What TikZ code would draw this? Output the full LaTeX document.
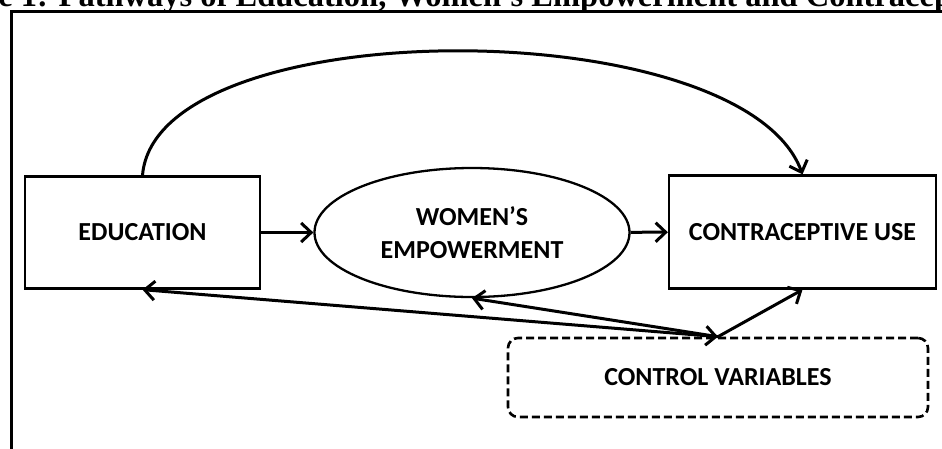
\documentclass[tikz,border=0pt]{standalone}
\usepackage{fontspec}
\setmainfont{Liberation Serif}
\newfontfamily\boxfont{Carlito}
\usetikzlibrary{arrows.meta,shapes.geometric}

\begin{document}
\begin{tikzpicture}[x=1pt,y=-1pt,>={Straight Barb[length=10pt,width=19pt]},
    box/.style={draw,line width=2.3pt,inner sep=0pt,align=center,
      font=\boxfont\bfseries\fontsize{26}{33}\selectfont},
    link/.style={->,line width=3pt}]
        \useasboundingbox (0,0) rectangle (942,448);
        \node[anchor=base west,inner sep=0pt,font=\bfseries\fontsize{32.5}{36}\selectfont] (title) at (-79,6)
            {Figure 1: Pathways of Education, Women’s Empowerment and Contraceptive Use};
        \draw[line width=3pt] (11.5,460) -- (11.5,11.5) -- (960,11.5);
        \node[box,minimum width=235pt,minimum height=112pt] (edu) at (142.5,232.5) {EDUCATION};
        \node[box,ellipse,minimum width=315pt,minimum height=129pt] (emp) at (472,232.5) {WOMEN’S\\EMPOWERMENT};
        \node[box,minimum width=267pt,minimum height=113pt] (cu) at (802.5,232) {CONTRACEPTIVE USE};
        \node[box,line width=2.6pt,dash pattern=on 8pt off 4pt,rounded corners=10pt,
            minimum width=420pt,minimum height=79pt] (cv) at (718,377.5) {CONTROL VARIABLES};
        \draw[link] (edu) -- (emp);
        \draw[link] (emp) -- (cu);
        \draw[link] (edu.north) .. controls (156,10) and (742,10) .. (cu.north);
        \draw[link,<->] (cv.north) -- (edu.south);
        \draw[link] (cv.north) -- (emp.south);
        \draw[link] (cv.north) -- (cu.south);
\end{tikzpicture}
\end{document}
